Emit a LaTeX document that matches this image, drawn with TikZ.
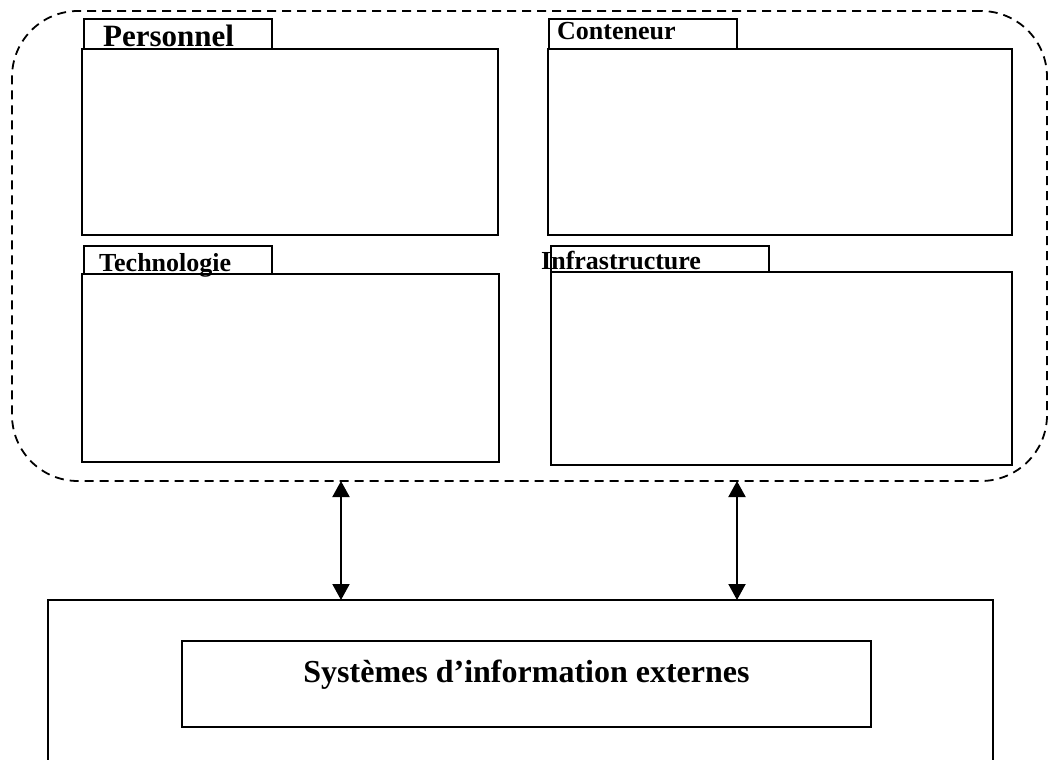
\documentclass[tikz,border=0pt]{standalone}
\usepackage{fontspec}
\setmainfont{Liberation Serif}
\usetikzlibrary{arrows.meta}
\begin{document}
\begin{tikzpicture}[x=1bp,y=-1bp,
  panel/.style={draw, line width=2bp, anchor=north west, inner sep=0pt, outer sep=0pt},
  tablabel/.style={anchor=base west, inner sep=0pt, font=\bfseries\fontsize{26bp}{30bp}\selectfont},
  biglabel/.style={anchor=base west, inner sep=0pt, font=\bfseries\fontsize{31bp}{36bp}\selectfont},
  extlabel/.style={anchor=base, inner sep=0pt, font=\bfseries\fontsize{32bp}{38bp}\selectfont},
  link/.style={line width=2bp, {Triangle[width=17bp,length=16bp]}-{Triangle[width=17bp,length=16bp]}},
  group/.style={draw, dash pattern=on 9bp off 6bp, line width=1.8bp, rounded corners=66bp,
    anchor=north west, inner sep=0pt, outer sep=0pt},
  frame/.style={line width=2bp}]
\useasboundingbox (0,0) rectangle (1048,760);

% dashed group
\node[group, minimum width=1035bp, minimum height=470bp] (grp) at (12,11) {};

% Personnel
\node[panel, minimum width=188bp, minimum height=30bp] (perstab) at (84,19) {};
\node[panel, minimum width=416bp, minimum height=186bp] (pers) at (82,49) {};
\node[biglabel] (perstxt) at (103,47) {Personnel};

% Conteneur
\node[panel, minimum width=188bp, minimum height=30bp] (conttab) at (549,19) {};
\node[panel, minimum width=464bp, minimum height=186bp] (cont) at (548,49) {};
\node[tablabel] (conttxt) at (557,40) {Conteneur};

% Technologie
\node[panel, minimum width=188bp, minimum height=28bp] (techtab) at (84,246) {};
\node[panel, minimum width=417bp, minimum height=188bp] (tech) at (82,274) {};
\node[tablabel] (techtxt) at (99,271) {Technologie};

% Infrastructure
\node[panel, minimum width=218bp, minimum height=26bp] (infratab) at (551,246) {};
\node[panel, minimum width=461bp, minimum height=193bp] (infra) at (551,272) {};
\node[tablabel] (infratxt) at (541,269) {Infrastructure};

% external frame (open at the bottom)
\coordinate (extbl) at (48,760);
\coordinate (exttl) at (48,600);
\coordinate (exttr) at (993,600);
\coordinate (extbr) at (993,760);
\draw[frame] (extbl) -- (exttl) -- (exttr) -- (extbr);

\node[panel, minimum width=689bp, minimum height=86bp] (ext) at (182,641) {};
\node[extlabel] (exttxt) at (526.5,682) {Systèmes d’information externes};

% arrows
\coordinate (a1t) at (341,481);
\coordinate (a1b) at (341,600);
\coordinate (a2t) at (737,481);
\coordinate (a2b) at (737,600);
\draw[link] (a1t) -- (a1b);
\draw[link] (a2t) -- (a2b);
\end{tikzpicture}
\end{document}
